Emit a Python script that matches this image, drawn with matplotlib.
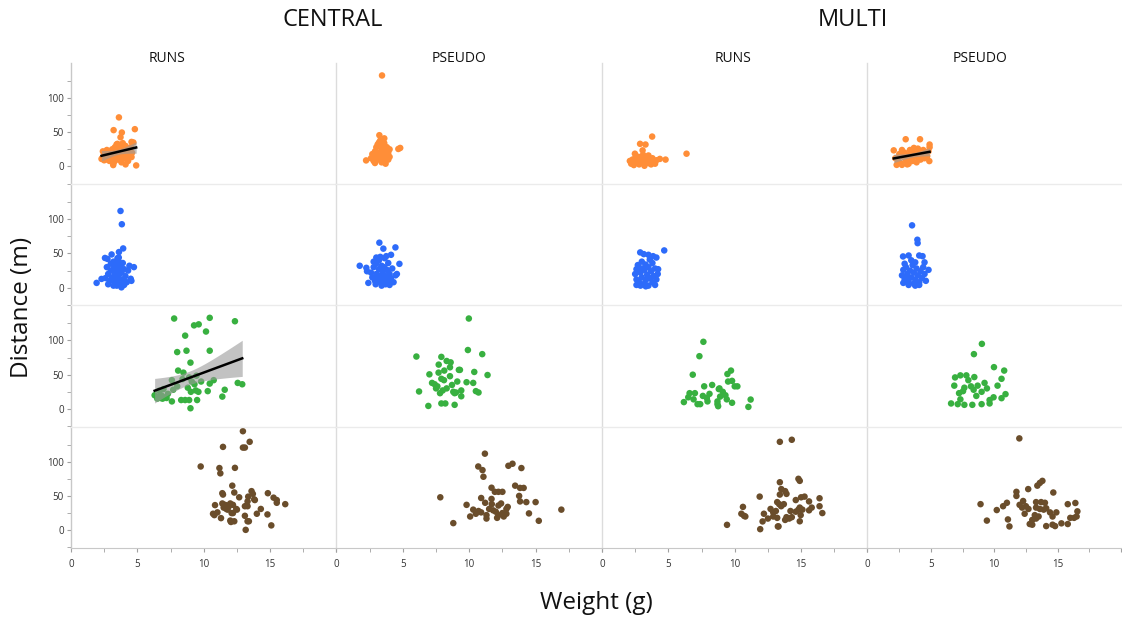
import numpy as np
import matplotlib
matplotlib.use("Agg")
import matplotlib.pyplot as plt

plt.rcParams['font.family'] = ['Open Sans', 'DejaVu Sans']

# column / row labels
groups = ['CENTRAL', 'MULTI']
columns = ['RUNS', 'PSEUDO', 'RUNS', 'PSEUDO']
row_colors = ['#FF8E38', '#2D6BFA', '#38B040', '#6A4D2B']

# --- row 1 (orange) ---
c_runs_orange_x = [3.61, 3.21, 3.83, 3.73, 4.81, 4.56, 3.43, 2.38, 4.11, 4.91, 3.18, 4.56,
                   2.5, 2.6, 2.7, 2.8, 2.9, 3.0, 3.0, 3.1, 3.1, 3.2, 3.3, 3.3, 3.4, 3.4, 3.5, 3.5,
                   3.6, 3.6, 3.7, 3.7, 3.8, 3.8, 3.9, 4.0, 4.0, 4.1, 4.2, 4.3, 4.4, 4.5, 4.6,
                   2.4, 2.7, 2.9, 3.2, 3.5, 3.9, 4.7, 4.3, 2.6, 2.3, 2.5]
c_runs_orange_y = [71.6, 53, 49.5, 42.6, 54.4, 35.8, 32, 12.8, 3, 1.5, 2, 13.7,
                   15, 18, 12, 20, 16, 22, 10, 25, 14, 18, 28, 8, 20, 13, 24, 17,
                   30, 10, 22, 15, 27, 6, 19, 25, 12, 30, 18, 22, 14, 28, 20,
                   22, 24, 8, 5, 33, 34, 35, 8, 10, 11, 9]
c_pseudo_orange_x = [3.43, 3.23, 4.66, 4.8, 2.23,
                     2.6, 2.7, 2.8, 2.9, 3.0, 3.0, 3.1, 3.2, 3.2, 3.3, 3.3, 3.4, 3.4, 3.5, 3.5,
                     3.6, 3.6, 3.7, 3.7, 3.8, 3.8, 3.9, 3.9, 4.0, 4.0, 3.1, 2.9, 3.5, 3.6, 3.3]
c_pseudo_orange_y = [132.8, 45.6, 25.5, 27, 8.8,
                     12, 18, 8, 22, 15, 28, 10, 20, 35, 14, 38, 25, 6, 18, 30,
                     12, 41, 22, 4, 16, 28, 10, 20, 25, 14, 32, 5, 9, 34, 19]
m_runs_orange_x = [3.78, 2.87, 3.28, 2.48, 3.06, 6.37, 4.36, 4.79,
                   2.1, 2.2, 2.3, 2.4, 2.5, 2.6, 2.7, 2.8, 2.9, 3.0, 3.1, 3.2, 3.3, 3.4, 3.5,
                   3.6, 3.7, 3.8, 3.9, 4.0, 3.1, 2.6, 3.5, 4.1, 2.4]
m_runs_orange_y = [43.6, 33, 32, 18.6, 23.5, 18.6, 11, 10,
                   8, 4, 10, 2, 12, 6, 9, 3, 14, 7, 11, 1, 9, 13, 5,
                   10, 3, 12, 7, 4, 17, 15, 16, 9, 7]
m_pseudo_orange_x = [2.88, 3.96, 4.68, 4.68, 1.98, 2.6, 3.2, 3.8, 4.66, 2.2, 2.6,
                     2.1, 2.3, 2.4, 2.5, 2.7, 2.8, 2.9, 3.0, 3.1, 3.2, 3.3, 3.4, 3.5, 3.6, 3.7,
                     3.8, 3.9, 4.0, 4.1, 4.2, 4.3, 4.4, 4.5, 4.6, 3.0, 3.5]
m_pseudo_orange_y = [39.7, 39.7, 32, 28, 23.5, 24, 24, 26, 7.8, 2.3, 2.3,
                     12, 8, 18, 5, 14, 20, 9, 16, 4, 12, 21, 8, 15, 19, 6,
                     13, 22, 10, 17, 24, 12, 20, 15, 22, 3, 27]

# --- row 2 (blue) ---
c_runs_blue_x = [3.73, 3.83, 3.93, 3.61, 3.06, 2.56, 2.75, 3.5, 3.6, 1.93, 2.3, 4.74, 4.5, 4.55,
                 3.8, 3.2, 3.45,
                 2.7, 2.8, 2.9, 3.0, 3.0, 3.1, 3.2, 3.3, 3.3, 3.4, 3.5, 3.5, 3.6, 3.7, 3.7,
                 3.8, 3.9, 3.9, 4.0, 4.1, 4.2, 4.3, 4.4, 2.8, 3.2, 3.6, 4.0, 3.4, 2.6]
c_runs_blue_y = [112, 92.6, 57.3, 52, 48.5, 43.4, 42, 43, 44, 7, 12.8, 30, 13, 10,
                 0.5, 3, 3,
                 30, 20, 10, 35, 25, 15, 28, 8, 20, 33, 12, 25, 18, 5, 30,
                 22, 12, 36, 27, 17, 8, 25, 32, 5, 38, 38, 4, 16, 14]
c_pseudo_blue_x = [3.23, 3.53, 4.44, 4.11, 1.75, 4.74, 3.63, 3.0, 3.3, 3.75, 2.3, 2.25, 4.55,
                   4.45, 2.4, 2.95, 3.7,
                   2.6, 2.7, 2.8, 2.9, 3.0, 3.0, 3.1, 3.2, 3.3, 3.3, 3.4, 3.5, 3.5, 3.6, 3.6,
                   3.7, 3.8, 3.9, 3.9, 4.0, 4.1, 4.2, 4.3, 3.2, 2.8, 3.4, 4.0]
c_pseudo_blue_y = [65.7, 57, 58.8, 48, 32, 34.8, 43, 44, 45, 46, 24, 29, 20,
                   18, 7, 5, 5,
                   22, 15, 30, 10, 20, 35, 13, 27, 8, 18, 32, 12, 24, 6, 30,
                   17, 26, 10, 36, 20, 14, 28, 8, 40, 38, 3, 4]
m_runs_blue_x = [4.69, 2.88, 3.15, 3.5, 3.85, 4.1, 3.28, 4.23, 2.6, 2.6,
                 2.5, 2.6, 2.7, 2.8, 2.9, 3.0, 3.0, 3.1, 3.2, 3.3, 3.4, 3.5, 3.5, 3.6, 3.7,
                 3.8, 3.8, 3.9, 4.0, 4.0, 4.1, 4.2, 3.3, 2.9, 3.6, 3.0]
m_runs_blue_y = [54.4, 51.5, 49, 48, 46, 44, 33.8, 27, 27, 4,
                 20, 12, 33, 8, 22, 15, 38, 5, 26, 11, 19, 30, 3, 14, 24,
                 8, 36, 17, 28, 4, 12, 20, 2, 3, 41, 28]
m_pseudo_blue_x = [3.36, 3.76, 3.78, 2.68, 3.1, 3.9, 4.15, 3.6, 4.3, 2.7, 4.6, 2.7, 3.1, 3.9,
                   2.6, 2.8, 2.9, 3.0, 3.1, 3.2, 3.3, 3.4, 3.5, 3.5, 3.6, 3.7, 3.8, 3.9,
                   4.0, 4.1, 4.2, 4.3, 4.4, 3.3, 2.8, 3.6, 3.0]
m_pseudo_blue_y = [91, 70, 65, 45.6, 47, 47, 46, 37, 37, 26, 26, 7, 4, 4,
                   18, 12, 30, 20, 9, 25, 15, 33, 6, 22, 12, 28, 18, 8,
                   24, 14, 30, 20, 10, 40, 35, 3, 14]

# --- row 3 (green) ---
c_runs_green_x = [7.77, 10.45, 12.35, 9.27, 9.62, 10.17, 8.6, 8.0, 8.7, 10.45, 9.0, 8.07, 8.47,
                  7.6, 8.4, 9.45, 8.9, 9.1, 9.3, 10.75, 10.45, 12.56, 6.97, 6.64, 7.7, 11.58,
                  9.03, 9.4, 9.6, 10.3, 6.7, 6.75, 7.2, 7.6, 8.3, 8.6, 8.9, 9.5, 11.4, 9.0,
                  8.0, 8.8, 9.8, 7.3, 6.3, 6.5, 6.6, 6.8, 6.9, 7.0, 12.9]
c_runs_green_y = [132, 133, 128, 122, 123.5, 113, 107, 83, 85, 85, 67.6, 56, 53,
                  42, 43.6, 48.5, 46, 40, 36, 42, 37, 38, 29, 26.5, 28, 28,
                  25, 27, 25, 26, 18, 16, 16, 11, 13, 13, 13, 13, 18, 1,
                  33, 31, 40, 22, 20, 15, 18, 20, 15, 17, 36]
c_pseudo_green_x = [9.97, 9.9, 10.98, 6.02, 7.9, 8.3, 8.6, 7.7, 8.55, 7.0, 8.12, 7.69, 9.22,
                    9.3, 10.38, 11.38, 8.55, 7.9, 8.1, 7.2, 7.4, 7.6, 9.1, 9.8, 10.3, 6.22,
                    7.8, 8.0, 8.8, 8.9, 9.0, 9.4, 9.4, 10.5, 10.7, 6.92, 7.9, 8.2, 8.9, 8.3,
                    7.5, 8.7]
c_pseudo_green_y = [132, 86, 80, 76.5, 76, 70, 68, 64.7, 60.8, 50.5, 56, 53, 57,
                    57, 54, 49.5, 47.8, 44, 42, 38, 36, 33, 40, 39, 38, 25.5,
                    23, 27, 25, 23, 24, 27, 18.5, 26, 24, 4.4, 8, 8, 6, 30,
                    30, 35]
m_runs_green_x = [7.64, 7.34, 6.84, 9.45, 9.72, 9.5, 9.8, 10.0, 10.2, 7.7, 8.3, 8.8, 8.85,
                  6.17, 6.6, 7.0, 6.9, 7.2, 7.4, 7.9, 7.95, 8.7, 8.75, 8.7, 8.9, 9.4, 9.8,
                  11.03, 11.2, 8.1, 9.1, 7.6, 9.3, 6.5]
m_runs_green_y = [98, 77, 50, 51, 56, 40, 41, 33, 33, 33, 35, 29, 30,
                  10, 23, 23, 14, 7, 7, 16, 11, 11, 4, 7, 18, 14, 9,
                  3, 13.7, 22, 25, 19, 20, 17]
m_pseudo_green_x = [8.62, 8.02, 9.53, 10.3, 10.1, 6.6, 7.0, 7.45, 8.05, 6.54, 9.8, 8.82, 7.3,
                    7.8, 8.3, 6.9, 7.2, 8.0, 8.6, 10.4, 10.1, 9.5, 9.2, 6.3, 6.8, 7.3, 7.9,
                    8.6, 9.2, 7.6, 8.2, 9.0, 7.0]
m_pseudo_green_y = [95, 80, 61, 56, 44, 46, 49, 49, 46.5, 34, 34, 38, 31,
                    33, 34, 23, 26, 28, 25, 21.6, 15.7, 17, 13, 8, 7, 6, 6,
                    7, 8, 42, 19, 30, 14]

# --- row 4 (brown) ---
c_runs_brown_x = [12.95, 13.46, 11.45, 12.95, 13.1, 9.77, 11.18, 12.35, 11.25, 12.15, 11.4,
                  11.45, 12.3, 13.6, 13.7, 14.83, 15.26, 15.5, 15.5, 16.14, 13.8, 13.85, 12.67,
                  10.7, 10.8, 10.85, 11.03, 11.3, 11.4, 11.6, 11.75, 11.9, 11.5, 11.7, 11.8,
                  12.0, 12.2, 12.45, 12.5, 12.2, 12.1, 13.1, 13.3, 13.3, 13.35, 14.0, 14.3,
                  14.8, 13.1, 12.0, 12.05, 12.3, 13.3, 13.4, 15.09, 13.16]
c_runs_brown_y = [144.5, 129, 121.6, 120.6, 120.6, 93, 90.7, 91, 83, 65, 54,
                  52, 55, 57, 53, 54, 47.5, 44, 40, 38, 45, 44, 48,
                  24, 22, 36.6, 26, 17.6, 39, 37, 36, 35, 33, 31, 30,
                  39, 37, 31, 30, 25, 25, 35, 35, 42, 49, 24, 31,
                  23, 21, 14, 12, 13, 13, 13, 7, 0.5]
c_pseudo_brown_x = [11.18, 10.68, 11.0, 12.95, 13.26, 11.07, 13.93, 7.82, 8.8, 11.68, 11.93,
                    12.2, 12.5, 13.46, 13.83, 14.1, 13.76, 13.83, 14.3, 15.0, 9.8, 10.9, 11.68,
                    11.2, 11.7, 12.4, 14.5, 15.24, 16.94, 10.07, 10.3, 10.7, 10.5, 10.9, 11.3,
                    11.8, 12.2, 12.5, 12.8, 12.1, 12.2, 12.8, 12.9, 11.3, 11.5, 12.0, 12.6]
c_pseudo_brown_y = [111.7, 93, 87.7, 94, 97, 78, 90.7, 48, 10.3, 62, 56,
                    56, 56, 65, 61.7, 61.7, 50, 42, 41, 41, 37, 47, 45.6,
                    40, 38, 39, 24.5, 13.7, 30, 20, 30, 28, 24, 26, 22,
                    29, 36, 25, 31, 18, 22, 24, 34, 17, 31, 27, 20]
m_runs_brown_x = [13.4, 14.3, 14.8, 14.9, 13.4, 13.51, 13.8, 13.9, 13.4, 11.88, 15.26, 14.6,
                  15.0, 15.6, 16.39, 16.39, 10.62, 13.2, 13.35, 13.5, 12.7, 12.9, 13.1, 14.6,
                  14.8, 14.9, 15.1, 15.6, 15.8, 16.6, 10.5, 10.7, 10.8, 12.1, 12.5, 12.9,
                  13.2, 13.25, 13.3, 13.8, 13.9, 14.1, 14.3, 14.97, 14.9, 9.42, 11.92, 12.2,
                  13.7, 14.2]
m_runs_brown_y = [129, 132, 75, 72, 70, 60, 57, 53, 52, 49, 49, 44,
                  48, 42, 46.6, 35, 34, 41, 38, 35, 31, 26, 28, 27,
                  30, 33, 30, 29, 33, 25, 24, 21, 20, 12.8, 17, 20,
                  18, 5.5, 5.5, 15, 19, 17, 19, 22, 13, 7.8, 1.5, 24,
                  38, 28]
m_pseudo_brown_x = [11.98, 13.8, 13.6, 13.4, 11.75, 11.75, 12.68, 14.66, 8.92, 10.2, 10.7, 11.0,
                    12.28, 12.0, 12.2, 12.5, 12.7, 13.3, 13.7, 14.0, 15.8, 16.4, 13.3, 13.6,
                    13.9, 14.1, 14.4, 14.9, 14.6, 16.56, 16.0, 16.3, 16.5, 13.2, 13.5, 13.0,
                    13.3, 12.8, 13.0, 11.08, 11.2, 9.42, 14.1, 14.6, 14.8, 15.3, 15.8, 12.4]
m_pseudo_brown_y = [134, 72, 69, 65, 56, 50, 60, 55, 38, 29.4, 35, 40,
                    42.6, 37, 33, 35, 31, 41, 41, 40, 38, 39.7, 33, 31,
                    30, 32, 26, 26, 20, 27.5, 18, 18, 20, 22, 20, 15,
                    17, 9, 8, 15.7, 5.5, 14, 6, 8, 6, 10, 9, 24]

# (row, column) panels that get a fitted line with 95% band
fit_panels = [(0, 0), (2, 0), (0, 3)]

panel_data = [
    [(c_runs_orange_x, c_runs_orange_y), (c_pseudo_orange_x, c_pseudo_orange_y),
     (m_runs_orange_x, m_runs_orange_y), (m_pseudo_orange_x, m_pseudo_orange_y)],
    [(c_runs_blue_x, c_runs_blue_y), (c_pseudo_blue_x, c_pseudo_blue_y),
     (m_runs_blue_x, m_runs_blue_y), (m_pseudo_blue_x, m_pseudo_blue_y)],
    [(c_runs_green_x, c_runs_green_y), (c_pseudo_green_x, c_pseudo_green_y),
     (m_runs_green_x, m_runs_green_y), (m_pseudo_green_x, m_pseudo_green_y)],
    [(c_runs_brown_x, c_runs_brown_y), (c_pseudo_brown_x, c_pseudo_brown_y),
     (m_runs_brown_x, m_runs_brown_y), (m_pseudo_brown_x, m_pseudo_brown_y)],
]


def fit_band(ax, x, y):
    x = np.asarray(x, float)
    y = np.asarray(y, float)
    n = len(x)
    slope, icpt = np.polyfit(x, y, 1)
    resid = y - (slope * x + icpt)
    s = np.sqrt(np.sum(resid ** 2) / (n - 2))
    xs = np.linspace(x.min(), x.max(), 50)
    se = s * np.sqrt(1 / n + (xs - x.mean()) ** 2 / np.sum((x - x.mean()) ** 2))
    yhat = slope * xs + icpt
    ax.fill_between(xs, yhat - 1.99 * se, yhat + 1.99 * se, color='#9a9a9a', alpha=0.6,
                    lw=0, zorder=3)
    ax.plot(xs, yhat, color='black', lw=1.8, zorder=4)


W, H = 1122, 617
fig = plt.figure(figsize=(W / 100, H / 100), dpi=100)
gs = fig.add_gridspec(4, 4, left=71 / W, right=1121 / W, top=1 - 63 / H, bottom=1 - 548 / H,
                      wspace=0, hspace=0, width_ratios=[20, 20, 20, 19.1])

for r in range(4):
    for c in range(4):
        ax = fig.add_subplot(gs[r, c])
        x, y = panel_data[r][c]
        ax.scatter(x, y, s=22, color=row_colors[r], edgecolors='none', zorder=2)
        if (r, c) in fit_panels:
            fit_band(ax, x, y)
        ax.set_xlim(0, 20 if c < 3 else 19.1)
        ax.set_ylim(-26, 151)
        for sp in ax.spines.values():
            sp.set_visible(False)
        ax.spines['left'].set_visible(True)
        ax.spines['left'].set_color('#c8c8c8' if c == 0 else '#dcdcdc')
        ax.spines['left'].set_linewidth(1.0)
        if r > 0:
            ax.spines['top'].set_visible(True)
            ax.spines['top'].set_color('#ebebeb')
            ax.spines['top'].set_linewidth(1.0)
        if r == 3:
            ax.spines['bottom'].set_visible(True)
            ax.spines['bottom'].set_color('#c8c8c8')
            ax.set_xticks([0, 5, 10, 15, 20])
            ax.set_xticklabels(['0', '5', '10', '15', ''])
            ax.set_xticks([2.5, 7.5, 12.5, 17.5], minor=True)
            ax.tick_params(axis='x', which='both', direction='out', length=3, color='#a0a0a0',
                           labelsize=7, labelcolor='#333333', pad=5)
        else:
            ax.set_xticks([])
            ax.set_xticks([], minor=True)
        if c == 0:
            ax.set_yticks([0, 50, 100])
            ax.set_yticks([-25, 25, 75, 125], minor=True)
            ax.tick_params(axis='y', which='both', direction='out', length=3, color='#a0a0a0',
                           labelsize=7, labelcolor='#333333', pad=2)
        else:
            ax.set_yticks([])
            ax.set_yticks([], minor=True)

# header texts
fig.text(333 / W, 1 - 20 / H, groups[0], ha='center', va='center', fontsize=17, color='#111111')
fig.text(853 / W, 1 - 20 / H, groups[1], ha='center', va='center', fontsize=17, color='#111111')
for xp, lab in zip([167, 459, 733, 980], columns):
    fig.text(xp / W, 1 - 58 / H, lab, ha='center', va='center', fontsize=10, color='#111111')

fig.text(22 / W, 1 - 307 / H, 'Distance (m)', rotation=90, ha='center', va='center',
         fontsize=17.5, color='#111111')
fig.text(596 / W, 1 - 603 / H, 'Weight (g)', ha='center', va='center', fontsize=17.5,
         color='#111111')

fig.savefig('out.png', dpi=100)
